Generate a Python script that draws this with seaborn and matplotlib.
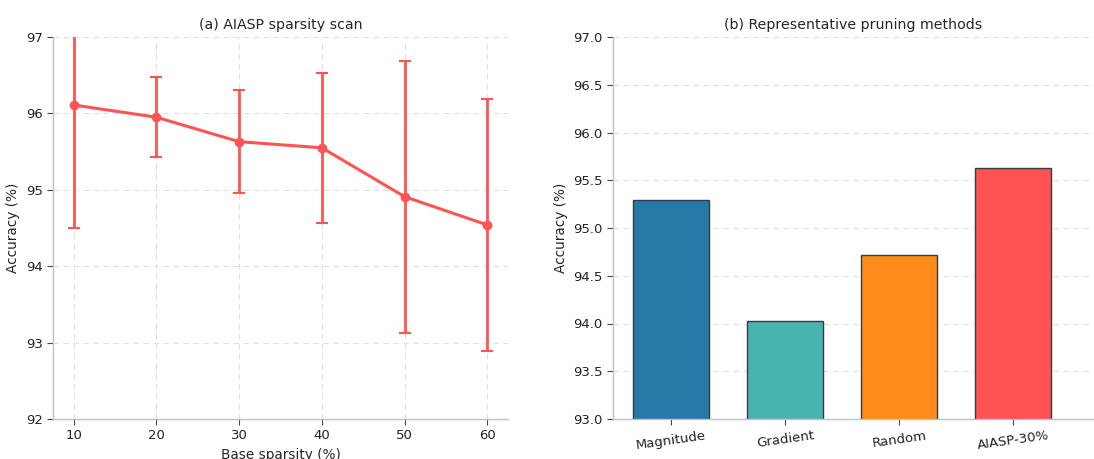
import matplotlib
matplotlib.use("Agg")
import matplotlib.pyplot as plt
import seaborn as sns
import pandas as pd
import numpy as np

# Data
sparsity = [10, 20, 30, 40, 50, 60]
acc_mean = [96.11, 95.95, 95.63, 95.55, 94.91, 94.54]
acc_std = [1.61, 0.52, 0.67, 0.98, 1.78, 1.65]

methods = ["Magnitude", "Gradient", "Random", "AIASP-30%"]
method_acc = [95.29, 94.03, 94.72, 95.63]
method_colors = ["#2878a8", "#46b5af", "#ff8c1a", "#ff5252"]

sns.set_style("white")
plt.rcParams['font.family'] = ['DejaVu Sans']

W, H = 1094, 459
fig = plt.figure(figsize=(W / 100, H / 100), dpi=100)

spine_c = "#b8c4d0"
grid_c = "#e0e0e0"
line_c = "#ff5454"

ax1 = fig.add_axes([53 / W, (H - 419) / H, (508 - 53) / W, (419 - 37) / H])
ax2 = fig.add_axes([613 / W, (H - 419) / H, (1094 - 613) / W, (419 - 37) / H])

df = pd.DataFrame({"sparsity": sparsity, "acc": acc_mean})
ax1.errorbar(sparsity, acc_mean, yerr=acc_std, fmt="none", ecolor=line_c,
             elinewidth=2, capsize=4, capthick=1.5, zorder=3)
sns.lineplot(data=df, x="sparsity", y="acc", ax=ax1, color=line_c, linewidth=2.2,
             marker="o", markersize=7, markeredgewidth=0, zorder=4)
ax1.set_xlim(7.5, 62.5)
ax1.set_ylim(92, 97)
ax1.set_xticks(sparsity)
ax1.set_yticks([92, 93, 94, 95, 96, 97])
ax1.set_xlabel("Base sparsity (%)", fontsize=9.8, labelpad=4)
ax1.set_ylabel("Accuracy (%)", fontsize=9.8)
ax1.set_title("(a) AIASP sparsity scan", fontsize=10.2, pad=6)
ax1.grid(True, linestyle=(0, (5, 4)), color=grid_c, linewidth=0.8)
ax1.set_axisbelow(True)

dfb = pd.DataFrame({"method": methods, "acc": method_acc})
sns.barplot(data=dfb, x="method", y="acc", hue="method", palette=method_colors,
            saturation=1, ax=ax2, width=0.67, edgecolor="#333d47", linewidth=1.0,
            legend=False)
ax2.set_ylim(93.0, 97.0)
ax2.set_xlim(-0.51, 3.71)
ax2.set_yticks(np.arange(93.0, 97.01, 0.5))
ax2.set_yticklabels([f"{v:.1f}" for v in np.arange(93.0, 97.01, 0.5)])
ax2.set_xlabel("")
ax2.set_ylabel("Accuracy (%)", fontsize=9.8)
ax2.set_title("(b) Representative pruning methods", fontsize=10.2, pad=6)
ax2.yaxis.grid(True, linestyle=(0, (5, 4)), color=grid_c, linewidth=0.8)
ax2.xaxis.grid(False)
ax2.set_axisbelow(True)
for lab in ax2.get_xticklabels():
    lab.set_rotation(8)

for ax in (ax1, ax2):
    for s in ("top", "right"):
        ax.spines[s].set_visible(False)
    for s in ("left", "bottom"):
        ax.spines[s].set_color(spine_c)
        ax.spines[s].set_linewidth(1.0)
    ax.tick_params(axis="both", labelsize=9.5, length=4, color="#444444",
                   labelcolor="#222222", direction="out", left=True, bottom=True)

fig.savefig("out.png", dpi=100)
